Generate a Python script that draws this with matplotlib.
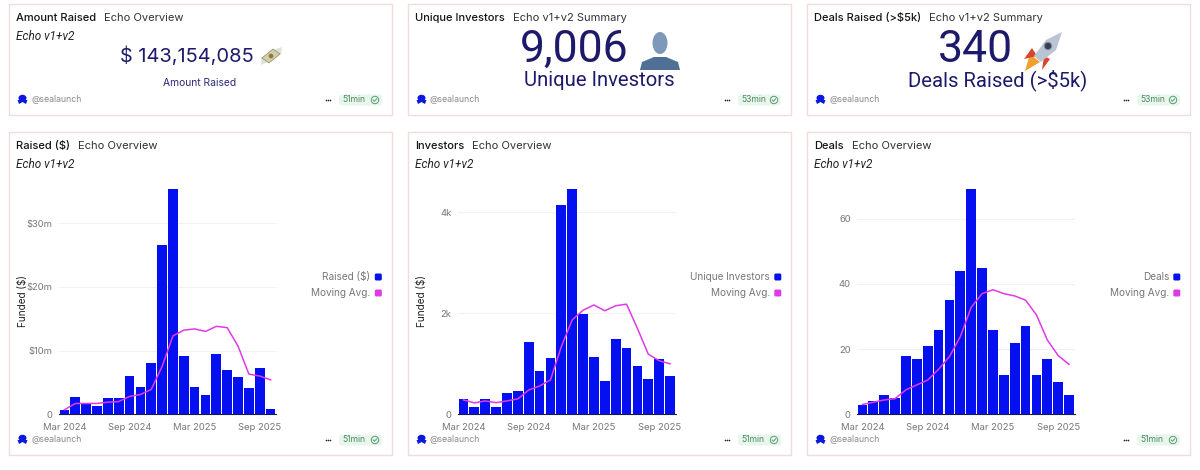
import matplotlib
matplotlib.use("Agg")
from matplotlib import pyplot as plt
from matplotlib.patches import Circle, Ellipse, FancyBboxPatch, Polygon, Rectangle

plt.rcParams['font.family'] = ['Inter', 'DejaVu Sans']

W, H = 1200, 470
BLUE = "#0510f0"
PINK = "#e03ae6"
NAVY = "#1d1a6b"
GRAY = "#77777c"
EDGE = "#f0dcd8"

months = ["Mar 2024", "Apr 2024", "May 2024", "Jun 2024", "Jul 2024", "Aug 2024",
          "Sep 2024", "Oct 2024", "Nov 2024", "Dec 2024", "Jan 2025", "Feb 2025",
          "Mar 2025", "Apr 2025", "May 2025", "Jun 2025", "Jul 2025", "Aug 2025",
          "Sep 2025", "Oct 2025"]

raised = [0.6, 2.7, 1.7, 1.3, 2.6, 2.6, 6.0, 4.3, 8.0, 26.5,
          35.3, 9.2, 4.3, 3.1, 9.4, 6.9, 5.9, 4.2, 7.3, 0.9]
raised_avg = [0.7, 1.7, 1.7, 1.7, 1.9, 2.0, 2.8, 3.1, 3.9, 7.5,
              12.3, 13.2, 13.4, 13.0, 13.8, 13.6, 10.7, 6.3, 6.0, 5.4]
investors = [300, 145, 310, 145, 415, 470, 1430, 850, 1120, 4145,
             4455, 1990, 1140, 665, 1485, 1320, 955, 705, 1095, 765]
investors_avg = [285, 225, 265, 230, 265, 305, 480, 560, 680, 1340,
                 1870, 2060, 2165, 2050, 2150, 2180, 1700, 1190, 1060, 1000]
deals = [3, 4, 6, 5, 18, 17, 21, 26, 35, 44,
         69, 45, 26, 12, 22, 27, 12, 17, 10, 6]
deals_avg = [3, 3.7, 4.4, 4.8, 7.5, 9, 10.5, 13.8, 17.7, 23.8,
             32.8, 37, 38.2, 37, 36.3, 35, 30.5, 22.8, 18, 15.3]

raised_ticks = [0, 10, 20, 30]
raised_labels = ["0", "$10m", "$20m", "$30m"]
investor_ticks = [0, 2000, 4000]
investor_labels = ["0", "2k", "4k"]
deal_ticks = [0, 20, 40, 60]
deal_labels = ["0", "20", "40", "60"]
date_ticks = ["Mar 2024", "Sep 2024", "Mar 2025", "Sep 2025"]

fig = plt.figure(figsize=(W / 100, H / 100), dpi=100)
bg = fig.add_axes([0, 0, 1, 1])
bg.set_xlim(0, W)
bg.set_ylim(H, 0)
bg.axis("off")


def footer(x0, x1, y, age):
    # little seal logo, handle, then the dots and the green age badge
    bg.add_patch(Ellipse((x0 + 13.5, y - 2), 8, 6.5, color="#0a18e0", lw=0))
    bg.add_patch(Polygon([(x0 + 8.5, y), (x0 + 18.5, y), (x0 + 17, y + 4),
                          (x0 + 13.5, y + 2), (x0 + 10, y + 4)], color="#0a18e0", lw=0))
    bg.text(x0 + 22, y, "@sealaunch", fontsize=6.3, color="#8a8a8f", va="center")
    bg.plot([x1 - 66.2, x1 - 64, x1 - 61.8], [y, y, y], ls="none", marker="o", ms=1.2,
            color="#222222", mew=0)
    bg.add_patch(FancyBboxPatch((x1 - 53, y - 5.5), 43, 11, boxstyle="round,pad=0,rounding_size=3",
                                fc="#e9f6ec", ec="none"))
    bg.text(x1 - 50, y, age, fontsize=6.2, color="#4b8a63", va="center")
    bg.add_patch(Circle((x1 - 17, y), 3.7, fc="none", ec="#5c9a74", lw=0.7))
    bg.plot([x1 - 18.8, x1 - 17.5, x1 - 15.3], [y, y + 1.3, y - 1.2], color="#5c9a74", lw=0.7)


def card(x0, x1, y0, y1, title, sub, age, italic=True):
    bg.add_patch(Rectangle((x0, y0), x1 - x0, y1 - y0, fc="white", ec=EDGE, lw=1))
    t = bg.text(x0 + 7, y0 + 14, title, fontsize=8, fontweight="medium", color="#151515", va="center")
    fig.canvas.draw()
    end = t.get_window_extent().x1
    bg.text(end + 8, y0 + 14, sub, fontsize=8, color="#333333", va="center")
    if italic:
        bg.text(x0 + 7, y0 + 32, "Echo v1+v2", fontsize=8.5, style="italic", family="Roboto",
                color="#222222", va="center")
    footer(x0, x1, y1 - 15, age)


def money(x, y):
    # stand-in for the flying money emoji
    bg.add_patch(Polygon([(x + 2, y - 6), (x + 11, y - 9), (x + 10, y - 1)], color="#dfe3dc", lw=0))
    bg.add_patch(Polygon([(x - 3, y + 6), (x - 10, y + 9), (x - 10, y + 1)], color="#dfe3dc", lw=0))
    bg.add_patch(Polygon([(x - 9, y + 2), (x + 2, y - 7), (x + 9, y - 2), (x - 2, y + 7)],
                         fc="#d0cfa8", ec="#8a8a66", lw=0.5))
    bg.add_patch(Circle((x, y), 2.3, fc="#8a7a40", lw=0))


def person(x, y):
    bg.add_patch(Ellipse((x, y - 8), 15, 22, color="#7d98b8", lw=0))
    bg.add_patch(Polygon([(x - 20, y + 19), (x - 18, y + 11), (x - 6, y + 6), (x + 6, y + 6),
                          (x + 18, y + 11), (x + 20, y + 19)], color="#4f6f94", lw=0))


def rocket(x, y):
    bg.add_patch(Polygon([(x - 18, y + 20), (x - 13, y + 3), (x - 3, y + 11)], color="#f2a02e", lw=0))
    bg.add_patch(Polygon([(x - 11, y - 3), (x - 19, y + 8), (x - 6, y + 5)], color="#d8452c", lw=0))
    bg.add_patch(Polygon([(x - 1, y + 19), (x + 7, y + 8), (x + 1, y + 5)], color="#d8452c", lw=0))
    bg.add_patch(Polygon([(x - 9, y + 5), (x + 3, y - 11), (x + 19, y - 19), (x + 13, y - 1), (x - 2, y + 11)],
                         color="#b9c4d4", lw=0))
    bg.add_patch(Circle((x + 5, y - 5), 3.8, fc="#3a3f50", ec="#8d99aa", lw=0.7))


def chart(left, right, values, avg, ticks, labels, ylabel, names):
    base, top = 414.3, 189.3
    ax = fig.add_axes([left / W, 1 - base / H, (right - left) / W, (base - top) / H])
    ax.patch.set_alpha(0)
    pos = list(range(len(months)))
    ax.bar(pos, values, width=0.89, color=BLUE, zorder=2)
    ax.plot(pos, avg, color=PINK, lw=1.1, zorder=3)
    ax.set_xlim(-0.5, 19.5)
    ax.set_ylim(0, max(values))
    ax.set_yticks(ticks, labels)
    ax.set_xticks([months.index(m) for m in date_ticks], date_ticks)
    ax.tick_params(length=0, labelsize=6.8, labelcolor=GRAY, pad=4.5)
    ax.tick_params(axis="x", pad=6)
    ax.grid(axis="y", color="#f1f1f3", lw=0.8, zorder=0)
    ax.set_axisbelow(True)
    for s in ["top", "left", "right"]:
        ax.spines[s].set_visible(False)
    ax.spines["bottom"].set_color("#1a1a50")
    ax.spines["bottom"].set_linewidth(0.8)
    if ylabel:
        bg.text(left - 36, 301, ylabel, rotation=90, fontsize=7.2, color="#222222",
                ha="center", va="center")
    # legend on the right side of the card
    for i, name in enumerate(names):
        y = 277 + i * 16
        color = BLUE if i == 0 else PINK
        bg.text(right + 94.5, y, name, fontsize=7.2, color=GRAY, ha="right", va="center")
        bg.add_patch(FancyBboxPatch((right + 98.8, y - 3.5), 7, 7, boxstyle="round,pad=0,rounding_size=1.5",
                                    fc=color, ec="none"))


card(9, 392, 4, 115, "Amount Raised", "Echo Overview", "51min")
bg.text(187, 56, "$ 143,154,085", fontsize=14.4, color=NAVY, ha="center", va="center")
money(271, 56)
bg.text(200, 83, "Amount Raised", fontsize=7.4, color="#2d2a78", ha="center", va="center")

card(408, 791, 4, 115, "Unique Investors", "Echo v1+v2 Summary", "53min", italic=False)
bg.text(574, 50, "9,006", fontsize=32, family="Roboto", color=NAVY, ha="center", va="center")
person(660, 51)
bg.text(599, 80, "Unique Investors", fontsize=14.6, family="Roboto", color=NAVY, ha="center", va="center")

card(807, 1190, 4, 115, "Deals Raised (>$5k)", "Echo v1+v2 Summary", "53min", italic=False)
bg.text(975, 50, "340", fontsize=32, family="Roboto", color=NAVY, ha="center", va="center")
rocket(1043, 51)
bg.text(997.5, 80, "Deals Raised (>$5k)", fontsize=14.6, family="Roboto", color=NAVY, ha="center", va="center")

card(9, 392, 132, 455, "Raised ($)", "Echo Overview", "51min")
chart(59, 276, raised, raised_avg, raised_ticks, raised_labels, "Funded ($)",
      ["Raised ($)", "Moving Avg."])

card(408, 791, 132, 455, "Investors", "Echo Overview", "51min")
chart(458, 675.5, investors, investors_avg, investor_ticks, investor_labels, "Funded ($)",
      ["Unique Investors", "Moving Avg."])

card(807, 1190, 132, 455, "Deals", "Echo Overview", "51min")
chart(857, 1074.5, deals, deals_avg, deal_ticks, deal_labels, None,
      ["Deals", "Moving Avg."])

fig.savefig("out.png", dpi=100)
